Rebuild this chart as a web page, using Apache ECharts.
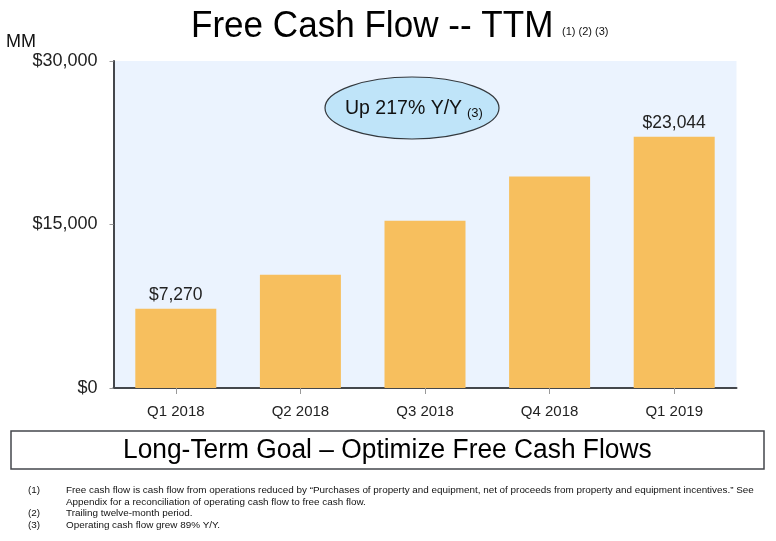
<!DOCTYPE html>
<html><head><meta charset="utf-8">
<style>html,body{margin:0;padding:0;background:#fff}#c{width:776px;height:541px}</style>
<script src="https://cdn.jsdelivr.net/npm/echarts@6/dist/echarts.min.js"></script>
</head><body><div id="c"></div>
<script>
const categories = ['Q1 2018','Q2 2018','Q3 2018','Q4 2018','Q1 2019'];
const values = [7270,10400,15350,19400,23044];
const labelled = ['$7,270',null,null,null,'$23,044'];
const yTicks = {0:'$0',15000:'$15,000',30000:'$30,000'};
const titleText = 'Free Cash Flow -- TTM';
const titleNotes = '(1) (2) (3)';
const goalText = 'Long-Term Goal – Optimize Free Cash Flows';
const footnoteNums = ['(1)','(2)','(3)'];
const footnotes = [
 'Free cash flow is cash flow from operations reduced by “Purchases of property and equipment, net of proceeds from property and equipment incentives.” See\nAppendix for a reconciliation of operating cash flow to free cash flow.',
 'Trailing twelve-month period.',
 'Operating cash flow grew 89% Y/Y.'
];
const F = '"Liberation Sans", Arial, sans-serif';
const chart = echarts.init(document.getElementById('c'), null, {renderer:'canvas'});
const txt = (x,y,text,size,extra={},sx=1) => ({type:'text',x,y,scaleX:sx,z:10,style:Object.assign({text,font:size+'px '+F,fill:'#111',textVerticalAlign:'middle'},extra)});
chart.setOption({
 animation:false,
 backgroundColor:'#fff',
 title:{show:false},
 grid:{left:113.5,right:39.5,top:61,bottom:153,backgroundColor:'#ebf3fe',show:true,borderWidth:0},
 xAxis:{type:'category',data:categories,
  axisLine:{lineStyle:{color:'#44474c',width:2}},
  axisTick:{show:true,alignWithLabel:true,length:6,lineStyle:{color:'#999',width:1}},
  axisLabel:{color:'#222',fontSize:15,fontFamily:F,margin:16}},
 yAxis:{type:'value',min:0,max:30000,interval:15000,
  splitLine:{show:false},
  axisLine:{show:true,lineStyle:{color:'#44474c',width:2}},
  axisTick:{show:true,length:4,lineStyle:{color:'#999',width:1}},
  axisLabel:{color:'#222',fontSize:18,fontFamily:F,margin:16,padding:[2,0,0,0],formatter:v=>yTicks[v]}},
 series:[{type:'bar',data:values,barWidth:81,
  itemStyle:{color:'#f7bf5e'},
  label:{show:true,position:'top',distance:5,color:'#222',fontSize:17.5,fontFamily:F,
   formatter:p=>labelled[p.dataIndex]||''}}],
 graphic:[
  txt(191,27,titleText,37.5,{fill:'#000'},0.935),
  txt(562,32,titleNotes,11),
  txt(6,42,'MM',18),
  {type:'ellipse',z:9,shape:{cx:412,cy:108,rx:87,ry:31},style:{fill:'#bfe4f9',stroke:'#33383d',lineWidth:1.2}},
  txt(345,109,'Up 217% Y/Y',19.5),
  txt(467,113,'(3)',13),
  {type:'rect',z:9,shape:{x:11,y:431,width:753,height:38},style:{fill:'#fff',stroke:'#44474c',lineWidth:1.5}},
  txt(123,451,goalText,27,{fill:'#000'},0.976),
  txt(28,490,footnoteNums[0],9.9),
  {type:'text',x:66,y:484,z:10,style:{text:footnotes[0],font:'9.9px '+F,fill:'#111',lineHeight:12}},
  txt(28,513,footnoteNums[1],9.9),
  txt(66,513,footnotes[1],9.9),
  txt(28,525,footnoteNums[2],9.9),
  txt(66,525,footnotes[2],9.9)
 ]
});
</script></body></html>
